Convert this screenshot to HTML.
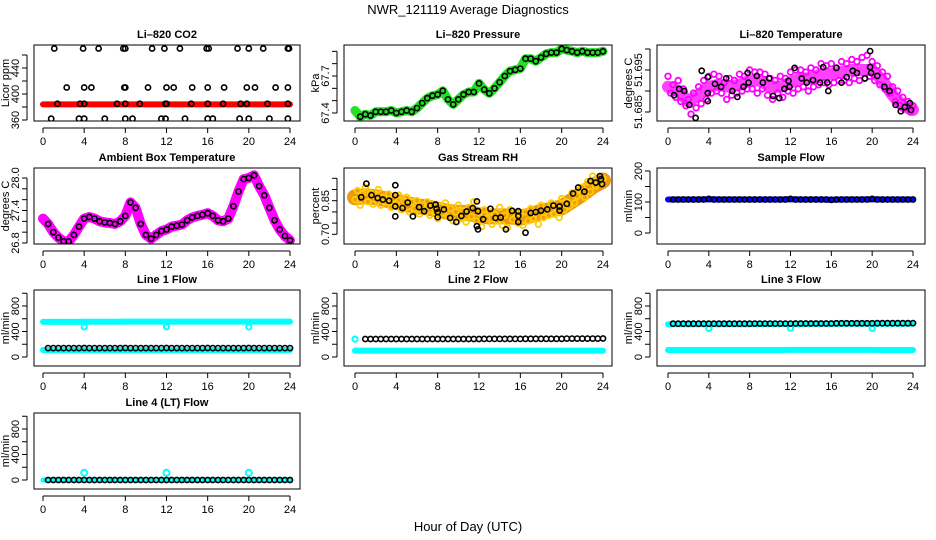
<!DOCTYPE html>
<html><head><meta charset="utf-8"><title>NWR_121119 Average Diagnostics</title>
<style>
html,body{margin:0;padding:0;background:#fff;}
svg{display:block;font-family:"Liberation Sans",Arial,sans-serif;}
</style></head>
<body>
<svg id="chart" width="936" height="540" viewBox="0 0 936 540">
<rect x="0" y="0" width="936" height="540" fill="#fff"/>
<text x="468" y="14" font-size="13" text-anchor="middle">NWR_121119  Average Diagnostics</text>
<text x="468" y="531" font-size="13" text-anchor="middle">Hour of Day (UTC)</text>
</svg>
<script>
// ---------- data ----------
const hourTicks = [0,4,8,12,16,20,24];
const tHourly = [0,1,2,3,4,5,6,7,8,9,10,11,12,13,14,15,16,17,18,19,20,21,22,23,24];
const tHalf = [0.5,1,1.5,2,2.5,3,3.5,4,4.5,5,5.5,6,6.5,7,7.5,8,8.5,9,9.5,10,10.5,11,11.5,12,12.5,13,13.5,14,14.5,15,15.5,16,16.5,17,17.5,18,18.5,19,19.5,20,20.5,21,21.5,22,22.5,23,23.5,24];
const tQuarter = [0,0.25,0.5,0.75,1,1.25,1.5,1.75,2,2.25,2.5,2.75,3,3.25,3.5,3.75,4,4.25,4.5,4.75,5,5.25,5.5,5.75,6,6.25,6.5,6.75,7,7.25,7.5,7.75,8,8.25,8.5,8.75,9,9.25,9.5,9.75,10,10.25,10.5,10.75,11,11.25,11.5,11.75,12,12.25,12.5,12.75,13,13.25,13.5,13.75,14,14.25,14.5,14.75,15,15.25,15.5,15.75,16,16.25,16.5,16.75,17,17.25,17.5,17.75,18,18.25,18.5,18.75,19,19.25,19.5,19.75,20,20.25,20.5,20.75,21,21.25,21.5,21.75,22,22.25,22.5,22.75,23,23.25,23.5,23.75,24];

// CO2
const co2BlackT = [1.1,3.9,5.4,7.8,8.0,10.6,11.8,13.3,15.9,16.1,18.9,20.0,21.4,23.8,23.9, 2.3,4.0,4.7,7.9,8.0,10.2,12.0,12.7,14.5,16.0,17.6,19.8,20.6,22.6,23.8, 1.4,3.6,4.0,7.2,8.0,9.4,11.9,12.0,14.4,16.0,17.5,19.2,19.8,21.8,23.8, 0.8,3.5,4.0,6.0,8.0,8.7,11.5,11.9,13.8,16.0,16.5,19.1,20.0,22.0,23.8];
const co2BlackV = [470,470,470,470,470,470,470,470,470,470,470,470,470,470,470, 410,410,410,410,410,410,410,410,410,410,410,410,410,410,410, 385,385,385,385,385,385,385,385,385,385,385,385,385,385,385, 362,362,362,362,362,362,362,362,362,362,362,362,362,362,362];
const co2RedV = [384,384,384,384,384,384,384,384,384,384,384,384,384,384,384,384,384,384,384,384,384,384,384,384,384];

// Pressure
const pressStartV = 67.42;
const pressV = [67.37,67.39,67.38,67.41,67.41,67.41,67.42,67.40,67.41,67.42,67.41,67.44,67.48,67.52,67.54,67.55,67.58,67.51,67.47,67.51,67.55,67.57,67.57,67.64,67.59,67.56,67.60,67.65,67.70,67.74,67.75,67.76,67.84,67.84,67.82,67.85,67.88,67.89,67.89,67.92,67.91,67.90,67.89,67.90,67.89,67.89,67.89,67.90];

// Li-820 temperature
const tempBlackT = [0.6,1.1,1.6,2.1,2.7,3.3,3.9,3.9,3.9,4.6,5.2,5.7,6.3,6.8,7.4,7.8,7.9,8.7,9.3,9.9,10.3,10.9,11.4,11.8,11.9,12.4,13.1,13.6,14.2,14.9,15.2,15.6,15.7,16.5,17.0,17.5,18.1,18.5,19.3,19.8,19.8,19.9,20.5,21.2,21.7,22.3,22.8,23.2,23.7,23.8];
const tempBlackV = [51.689,51.6905,51.690,51.6867,51.6836,51.6948,51.6933,51.6895,51.6876,51.6917,51.691,51.693,51.690,51.6886,51.691,51.6943,51.692,51.6936,51.692,51.693,51.6888,51.6883,51.6905,51.6924,51.691,51.6955,51.693,51.692,51.6926,51.692,51.6957,51.692,51.690,51.6955,51.692,51.6933,51.6948,51.6943,51.693,51.6995,51.6957,51.6943,51.6936,51.691,51.690,51.6867,51.6852,51.6862,51.6871,51.6855];
const tempCloudV = [51.6935,51.6895,51.6915,51.6885,51.6925,51.6875,51.6905,51.6865,51.6880,51.6845,51.6895,51.6860,51.6910,51.6870,51.6925,51.6880,51.6935,51.6895,51.6940,51.6900,51.6935,51.6895,51.6920,51.6880,51.6930,51.6890,51.6925,51.6895,51.6940,51.6900,51.6935,51.6905,51.6950,51.6905,51.6945,51.6895,51.6945,51.6905,51.6940,51.6890,51.6930,51.6880,51.6925,51.6895,51.6935,51.6885,51.6930,51.6900,51.6945,51.6895,51.6950,51.6905,51.6950,51.6910,51.6945,51.6900,51.6955,51.6910,51.6950,51.6915,51.6965,51.6920,51.6960,51.6915,51.6965,51.6920,51.6955,51.6925,51.6970,51.6925,51.6965,51.6920,51.6975,51.6930,51.6970,51.6925,51.6980,51.6930,51.6985,51.6935,51.6970,51.6925,51.6960,51.6915,51.6945,51.6905,51.6935,51.6895,51.6910,51.6875,51.6900,51.6865,51.6885,51.6860,51.6875,51.6850,51.6865];
const tempTrendV = [51.691,51.690,51.6875,51.689,51.691,51.6915,51.691,51.6915,51.6925,51.6925,51.691,51.691,51.692,51.693,51.693,51.694,51.694,51.6945,51.695,51.695,51.695,51.6925,51.689,51.6865,51.6855];

// Ambient box temperature
const ambStartV = 27.25;
const ambV = [27.15,27.0,26.9,26.83,26.83,26.95,27.1,27.25,27.28,27.25,27.2,27.18,27.17,27.15,27.2,27.3,27.55,27.45,27.15,26.95,26.88,26.95,27.02,27.05,27.1,27.12,27.14,27.22,27.27,27.3,27.32,27.35,27.3,27.22,27.2,27.25,27.48,27.75,27.98,28.0,28.05,27.85,27.68,27.45,27.22,27.05,26.93,26.85];

// Gas stream RH
const rhBlackT = [0.6,1.1,1.6,2.2,2.7,3.3,3.9,3.9,3.9,3.9,4.6,5.1,5.6,6.2,6.7,7.3,7.8,7.9,8.0,8.0,8.6,9.2,9.8,10.3,10.8,11.4,11.8,11.9,11.8,11.9,12.4,13.1,13.6,14.1,14.6,15.2,15.8,15.8,15.8,16.5,17.0,17.5,18.0,18.6,19.2,19.8,19.8,20.5,21.1,21.6,22.2,22.8,23.3,23.7,23.8,23.9];
const rhBlackV = [0.865,0.926,0.875,0.862,0.855,0.850,0.919,0.875,0.825,0.780,0.817,0.842,0.780,0.821,0.803,0.828,0.833,0.814,0.799,0.777,0.811,0.773,0.755,0.782,0.802,0.817,0.847,0.803,0.736,0.722,0.767,0.814,0.773,0.775,0.722,0.805,0.803,0.782,0.755,0.707,0.795,0.799,0.806,0.811,0.828,0.824,0.806,0.836,0.882,0.909,0.890,0.938,0.931,0.960,0.946,0.924];
const rhCloudV = [0.855,0.895,0.830,0.880,0.910,0.845,0.885,0.835,0.870,0.900,0.830,0.865,0.845,0.880,0.820,0.860,0.835,0.875,0.810,0.850,0.865,0.800,0.845,0.815,0.850,0.790,0.830,0.805,0.845,0.785,0.825,0.800,0.770,0.825,0.795,0.840,0.780,0.815,0.760,0.800,0.830,0.770,0.805,0.755,0.820,0.780,0.845,0.760,0.795,0.735,0.810,0.770,0.800,0.745,0.790,0.760,0.820,0.740,0.785,0.730,0.810,0.765,0.795,0.750,0.790,0.740,0.800,0.760,0.815,0.770,0.795,0.745,0.830,0.775,0.810,0.785,0.840,0.790,0.820,0.775,0.860,0.810,0.845,0.825,0.885,0.840,0.870,0.900,0.910,0.865,0.935,0.890,0.960,0.915,0.945,0.930,0.950];
const rhTrendV = [0.865,0.87,0.865,0.855,0.845,0.835,0.825,0.82,0.81,0.80,0.795,0.795,0.785,0.78,0.78,0.78,0.775,0.785,0.80,0.81,0.82,0.85,0.88,0.915,0.94];

// Sample flow
const sampleBlueV = [108,108,108,108,109,108,108,108,108,108,108,108,109,108,108,108,107,108,108,108,109,108,108,108,108];
const sampleBlackV = [108,108,108,108,108,108,108,110,108,108,108,108,108,108,108,108,108,108,108,108,108,108,108,110,108,108,108,108,108,108,108,107,108,108,108,108,108,108,108,110,108,108,108,108,108,108,108,108];

// Line flows
const dipT = [4,12,20];
const l1CyanHiV = [550,550,550,550,552,552,552,552,555,555,555,555,556,556,556,556,556,556,556,556,555,555,555,555,555];
const l1CyanLoV = [110,110,110,110,110,110,110,110,110,110,110,110,110,110,110,110,110,110,110,110,110,110,110,110,110];
const l1DipV = [472,474,470];
const l1BlackV = [140,140,140,140,140,140,140,141,140,140,140,140,140,140,140,141,140,140,140,140,140,140,140,141,140,140,140,140,140,140,140,141,140,140,140,140,140,140,140,141,140,140,140,140,140,140,140,140];
const l2CyanV = [100,100,100,100,100,100,100,100,100,100,100,100,100,100,100,100,100,100,100,100,100,100,100,100,100];
const l2CyanStartV = 280;
const l2BlackV = [null,282,282,282,282,282,282,282,282,282,282,282,282,282,282,282,282,282,282,282,282,282,282,282,284,284,284,284,284,284,284,284,286,286,286,286,286,286,286,286,288,288,288,288,288,288,288,290];
const l3CyanHiV = [515,515,515,515,515,515,515,515,515,518,518,518,518,518,520,520,520,522,522,522,522,522,522,522,522];
const l3CyanLoV = [110,110,110,110,110,110,110,110,110,110,110,110,112,112,112,112,112,112,112,112,112,110,110,110,110];
const l3DipV = [448,452,448];
const l3BlackV = [522,522,522,522,522,522,522,522,522,522,522,522,522,522,522,522,524,524,524,524,524,524,524,524,526,526,526,526,526,526,526,526,528,528,528,528,528,528,528,528,530,530,530,530,530,530,530,532];
const l4CyanV = [0,0,0,0,0,0,0,0,0,0,0,0,0,0,0,0,0,0,0,0,0,0,0,0,0];
const l4SpikeV = [115,115,115];
const l4BlackV = [0,0,0,0,0,0,0,0,0,0,0,0,0,0,0,0,0,0,0,0,0,0,0,0,0,0,0,0,0,0,0,0,0,0,0,0,0,0,0,0,0,0,0,0,0,0,0,0];

// ---------- drawing ----------
const NS = 'http://www.w3.org/2000/svg';
const svg = document.getElementById('chart');
function mk(tag, attrs, parent){
  const e = document.createElementNS(NS, tag);
  for (const k in attrs) e.setAttribute(k, attrs[k]);
  parent.appendChild(e);
  return e;
}
const cols = [{L:34,R:300,x0:43,x24:290},{L:344,R:612,x0:355,x24:603},{L:657,R:925,x0:668,x24:913}];
const rowTop = [45,168,290,413];
const H = 76;

function panel(name, title, ytitle, col, row, a1, a2, ticks, labels){
  const c = cols[col], top = rowTop[row], bot = top + H;
  const g = mk('g', {}, svg);
  
  
  const X = t => c.x0 + t * (c.x24 - c.x0) / 24;
  const Y = v => a1[1] + (v - a1[0]) * (a2[1] - a1[1]) / (a2[0] - a1[0]);
  const clip = mk('clipPath', {id: 'clip-' + name}, g);
  mk('rect', {x: c.L, y: top, width: c.R - c.L, height: H}, clip);
  const plot = mk('g', {'clip-path': 'url(#clip-' + name + ')'}, g);
  
  
  const axes = mk('g', {}, g);
  
  
  const box = mk('rect', {x: c.L, y: top, width: c.R - c.L, height: H, fill: 'none', stroke: '#000', 'stroke-width': 1}, axes);
  
  
  const tt = mk('text', {x: (c.L + c.R) / 2, y: top - 7, 'font-size': 11, 'font-weight': 'bold', 'text-anchor': 'middle'}, axes);
  tt.textContent = title;
  
  
  // x axis
  const xa = mk('line', {x1: X(0), x2: X(24), y1: bot + 7, y2: bot + 7, stroke: '#000'}, axes);
  
  
  hourTicks.forEach(h => {
    const tk = mk('line', {x1: X(h), x2: X(h), y1: bot + 7, y2: bot + 12, stroke: '#000'}, axes);
    
    
    const tl = mk('text', {x: X(h), y: bot + 24, 'font-size': 11, 'text-anchor': 'middle'}, axes);
    tl.textContent = String(h);
    
    
  });
  // y axis
  const ya = mk('line', {x1: c.L - 7, x2: c.L - 7, y1: Y(ticks[0]), y2: Y(ticks[ticks.length - 1]), stroke: '#000'}, axes);
  
  
  ticks.forEach(v => {
    const tk = mk('line', {x1: c.L - 12, x2: c.L - 7, y1: Y(v), y2: Y(v), stroke: '#000'}, axes);
    
    
  });
  labels.forEach(v => {
    const y = Y(v), x = c.L - 15;
    const tl = mk('text', {x: x, y: y, 'font-size': 11, 'text-anchor': 'middle', transform: 'rotate(-90 ' + x + ' ' + y + ')'}, axes);
    tl.textContent = (typeof v === 'number' && String(v).length < 3 && v % 1 !== 0) ? v.toFixed(2) : fmt(v);
    
    
  });
  const yx = c.L - 25, yy = (top + bot) / 2;
  const yt = mk('text', {x: yx, y: yy, 'font-size': 11, 'text-anchor': 'middle', transform: 'rotate(-90 ' + yx + ' ' + yy + ')'}, axes);
  yt.textContent = ytitle;
  
  
  return {plot, X, Y};
}
function fmt(v){
  if (Math.abs(v) < 2 && v !== 0) return v.toFixed(2);
  if (v > 50 && v < 60) return v.toFixed(3);
  if (v > 20 && v < 30) return v.toFixed(1);
  if (v > 60 && v < 70) return v.toFixed(1);
  return String(v);
}
function band(p, ts, vs, color, w, name){
  const pts = [];
  ts.forEach((t, i) => { if (vs[i] !== null) pts.push(p.X(t).toFixed(1) + ',' + p.Y(vs[i]).toFixed(1)); });
  const pl = mk('polyline', {points: pts.join(' '), fill: 'none', stroke: color, 'stroke-width': w, 'stroke-linejoin': 'round', 'stroke-linecap': 'round'}, p.plot);
  
  
}
function pts(p, ts, vs, color, r, sw, name){
  ts.forEach((t, i) => {
    if (vs[i] === null) return;
    const c = mk('circle', {cx: p.X(t).toFixed(1), cy: p.Y(vs[i]).toFixed(1), r: r, fill: 'none', stroke: color, 'stroke-width': sw}, p.plot);
    
    
  });
}

// Row 1
let p = panel('co2-panel', 'Li\u2013820 CO2', 'Licor ppm', 0, 0, [360,120], [440,68], [360,380,400,420,440,460], [360,400,440]);
band(p, tHourly, co2RedV, '#ff0000', 6, 'co2-red-series');
pts(p, co2BlackT, co2BlackV, '#000', 2.6, 1.6, 'co2-hourly-point');

p = panel('pressure-panel', 'Li\u2013820 Pressure', 'kPa', 1, 0, [67.4,113], [67.7,76], [67.4,67.5,67.6,67.7,67.8,67.9], [67.4,67.7]);
band(p, [0].concat(tHalf), [pressStartV].concat(pressV), '#22e022', 9, 'pressure-green-series');
pts(p, tHalf, pressV, '#000', 2.6, 1.6, 'pressure-hourly-point');

p = panel('li820-temp-panel', 'Li\u2013820 Temperature', 'degrees C', 2, 0, [51.685,112], [51.695,70], [51.685,51.69,51.695,51.70], [51.685,51.695]);
band(p, tHourly, tempTrendV, '#ff40ff', 12, 'li820-temp-magenta-band');
pts(p, tQuarter, tempCloudV, '#ff00ff', 2.8, 1.8, 'li820-temp-magenta-point');
pts(p, tempBlackT, tempBlackV, '#000', 2.6, 1.6, 'li820-temp-hourly-point');

// Row 2
p = panel('ambient-temp-panel', 'Ambient Box Temperature', 'degrees C', 0, 1, [26.8,243], [28.0,178], [26.8,27.0,27.2,27.4,27.6,27.8,28.0], [26.8,27.4,28.0]);
band(p, [0].concat(tHalf), [ambStartV].concat(ambV), '#ff00ff', 10, 'ambient-temp-magenta-series');
pts(p, tHalf, ambV, '#000', 2.6, 1.6, 'ambient-temp-hourly-point');

p = panel('rh-panel', 'Gas Stream RH', 'percent', 1, 1, [0.70,234.3], [0.85,200.7], [0.70,0.75,0.80,0.85,0.90,0.95], [0.70,0.85]);
band(p, tHourly, rhTrendV, '#ee9a10', 16, 'rh-orange-band');
pts(p, tQuarter, rhCloudV, '#ffcc00', 2.8, 1.8, 'rh-orange-point');
pts(p, rhBlackT, rhBlackV, '#000', 2.6, 1.6, 'rh-hourly-point');

p = panel('sample-flow-panel', 'Sample Flow', 'ml/min', 2, 1, [0,233], [200,171], [0,50,100,150,200], [0,100,200]);
band(p, tHourly, sampleBlueV, '#0000ff', 6, 'sample-flow-blue-series');
pts(p, tHalf, sampleBlackV, '#000', 2.6, 1.6, 'sample-flow-hourly-point');

// Row 3
const flowTicks = [0,200,400,600,800,1000], flowLabels = [0,400,800];
p = panel('line1-flow-panel', 'Line 1 Flow', 'ml/min', 0, 2, [0,357], [800,306], flowTicks, flowLabels);
band(p, tHourly, l1CyanHiV, '#00ffff', 6, 'line1-cyan-high-series');
band(p, tHourly, l1CyanLoV, '#00ffff', 6, 'line1-cyan-low-series');
pts(p, dipT, l1DipV, '#00ffff', 2.6, 2, 'line1-cyan-dip');
pts(p, tHalf, l1BlackV, '#000', 2.6, 1.6, 'line1-hourly-point');

p = panel('line2-flow-panel', 'Line 2 Flow', 'ml/min', 1, 2, [0,357], [800,306], flowTicks, flowLabels);
band(p, tHourly, l2CyanV, '#00ffff', 6, 'line2-cyan-series');
pts(p, [0], [l2CyanStartV], '#00ffff', 2.6, 2, 'line2-cyan-start');
pts(p, tHalf, l2BlackV, '#000', 2.6, 1.6, 'line2-hourly-point');

p = panel('line3-flow-panel', 'Line 3 Flow', 'ml/min', 2, 2, [0,357], [800,306], flowTicks, flowLabels);
band(p, tHourly, l3CyanHiV, '#00ffff', 6, 'line3-cyan-high-series');
band(p, tHourly, l3CyanLoV, '#00ffff', 6, 'line3-cyan-low-series');
pts(p, dipT, l3DipV, '#00ffff', 2.6, 2, 'line3-cyan-dip');
pts(p, tHalf, l3BlackV, '#000', 2.6, 1.6, 'line3-hourly-point');

// Row 4
p = panel('line4-flow-panel', 'Line 4 (LT) Flow', 'ml/min', 0, 3, [0,480], [800,429], flowTicks, flowLabels);
band(p, tHourly, l4CyanV, '#00ffff', 5, 'line4-cyan-series');
pts(p, dipT, l4SpikeV, '#00ffff', 3, 2, 'line4-cyan-spike');
pts(p, tHalf, l4BlackV, '#000', 2.6, 1.6, 'line4-hourly-point');
</script>
</body></html>
